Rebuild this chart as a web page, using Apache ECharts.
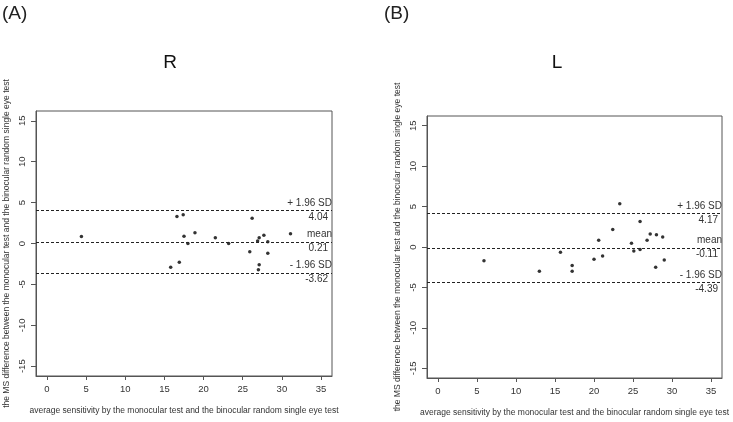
<!DOCTYPE html>
<html>
<head>
<meta charset="utf-8">
<script src="https://cdn.jsdelivr.net/npm/echarts@6/dist/echarts.min.js"></script>
<style>
  html, body { margin: 0; padding: 0; background: #fff; }
  #chart { width: 733px; height: 422px; }
</style>
</head>
<body>
<div id="chart"></div>
<script>
// Bland-Altman data: [mean sensitivity, difference]
const pointsR = [
  [4.4, 0.85], [16.6, 3.3], [17.4, 3.5], [17.5, 0.9], [18.9, 1.3],
  [18.0, 0.0], [15.8, -2.9], [16.9, -2.3], [21.5, 0.7], [23.2, 0.0],
  [26.2, 3.1], [25.9, -1.0], [26.9, 0.3], [27.1, 0.7], [27.7, 1.0],
  [28.2, 0.2], [28.2, -1.2], [27.1, -2.6], [27.0, -3.2], [31.1, 1.2]
];
const pointsL = [
  [5.9, -1.7], [13.0, -3.0], [15.7, -0.65], [17.2, -2.3], [17.2, -3.0],
  [20.0, -1.5], [20.6, 0.85], [21.1, -1.1], [22.4, 2.15], [23.3, 5.35],
  [24.8, 0.45], [25.1, -0.5], [25.9, 3.15], [25.9, -0.3], [26.8, 0.85],
  [27.2, 1.6], [28.0, 1.5], [27.9, -2.5], [28.8, 1.25], [29.0, -1.6]
];
const limitNames = ["+ 1.96 SD", "mean", "- 1.96 SD"];
const limitsR = [4.04, 0.21, -3.62];
const limitsL = [4.17, -0.11, -4.39];

const xTicks = [0, 5, 10, 15, 20, 25, 30, 35];
const yTicks = [-15, -10, -5, 0, 5, 10, 15];

const xTitle = "average sensitivity by the monocular test and the binocular random single eye test";
const yTitle = "the MS difference between the monocular test and the binocular random single eye test";

const FONT = "Liberation Sans, Arial, sans-serif";
const ink = "#333";
const frame = "#555";

function xAxisFor(gi) {
  return {
    gridIndex: gi, type: "value", min: -1.4, max: 36.4,
    splitLine: { show: false },
    axisLine: { show: true, onZero: false, lineStyle: { color: frame } },
    axisTick: { show: true, length: 4, customValues: xTicks, lineStyle: { color: frame } },
    axisLabel: { customValues: xTicks, fontSize: 9.5, color: ink, margin: 8, fontFamily: FONT },
    name: xTitle, nameLocation: "middle", nameGap: 30,
    nameTextStyle: { fontSize: 8.5, color: ink, fontFamily: FONT }
  };
}

function yAxisFor(gi) {
  return {
    gridIndex: gi, type: "value", min: -16.2, max: 16.2,
    splitLine: { show: false },
    axisLine: { show: true, onZero: false, lineStyle: { color: frame } },
    axisTick: { show: true, length: 5, customValues: yTicks, lineStyle: { color: frame } },
    axisLabel: { customValues: yTicks, fontSize: 9.5, color: ink, margin: 9, rotate: 90, fontFamily: FONT },
    name: yTitle, nameLocation: "middle", nameGap: 25,
    nameTextStyle: { fontSize: 8.5, color: ink, fontFamily: FONT }
  };
}

function series(gi, pts, limits) {
  return {
    type: "scatter", xAxisIndex: gi, yAxisIndex: gi,
    data: pts, symbolSize: 3.5,
    itemStyle: { color: "#000" },
    markLine: {
      silent: true, symbol: "none", animation: false,
      lineStyle: { type: [3, 2], color: "#222", width: 1 },
      label: {
        position: "insideEnd", distance: 0, fontFamily: FONT,
        formatter: (p) => `{a|${limitNames[p.dataIndex]}}\n{b|${p.value.toFixed(2)}}`,
        rich: {
          a: { fontSize: 10, color: ink, align: "right", lineHeight: 13, fontFamily: FONT },
          b: { fontSize: 10, color: ink, align: "right", lineHeight: 15, fontFamily: FONT, padding: [0, 4, 0, 0] }
        }
      },
      data: limits.map((v) => ({ yAxis: v }))
    }
  };
}

const chart = echarts.init(document.getElementById("chart"), null, { renderer: "canvas" });
chart.setOption({
  backgroundColor: "#fff",
  animation: false,
  title: [
    { text: "(A)", left: 2, top: 4, padding: 0, textStyle: { fontSize: 19, fontWeight: "normal", color: "#222", fontFamily: FONT } },
    { text: "(B)", left: 384, top: 4, padding: 0, textStyle: { fontSize: 19, fontWeight: "normal", color: "#222", fontFamily: FONT } },
    { text: "R", left: 170, textAlign: "center", top: 53, padding: 0, textStyle: { fontSize: 19, fontWeight: "normal", color: "#111", fontFamily: FONT } },
    { text: "L", left: 557, textAlign: "center", top: 53, padding: 0, textStyle: { fontSize: 19, fontWeight: "normal", color: "#111", fontFamily: FONT } }
  ],
  grid: [
    { left: 36, top: 111, width: 296, height: 265, show: true, borderColor: frame, borderWidth: 1, backgroundColor: "transparent" },
    { left: 427, top: 116, width: 295, height: 266, show: true, borderColor: frame, borderWidth: 1, backgroundColor: "transparent" }
  ],
  xAxis: [xAxisFor(0), xAxisFor(1)],
  yAxis: [yAxisFor(0), yAxisFor(1)],
  series: [series(0, pointsR, limitsR), series(1, pointsL, limitsL)]
});
</script>
</body>
</html>
